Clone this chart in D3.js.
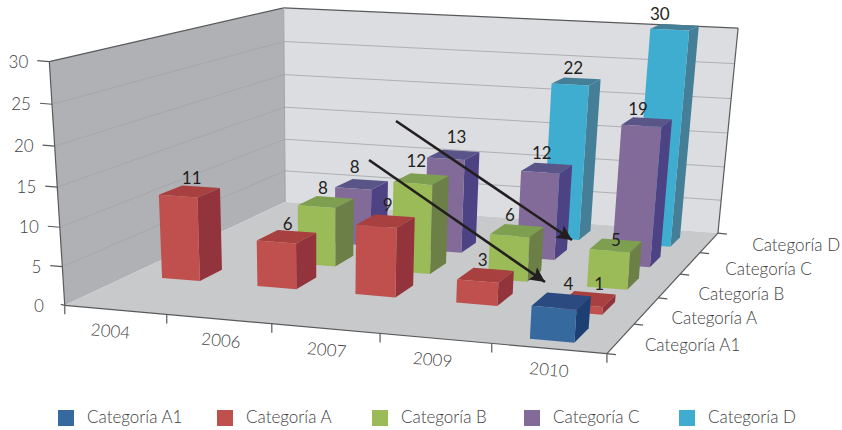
<!DOCTYPE html>
<html>
<head>
<meta charset="utf-8">
<script src="https://cdn.jsdelivr.net/npm/d3@7"></script>
<style>
  html, body { margin: 0; background: #fff; }
  text { font-family: Lato, "Open Sans", sans-serif; }
</style>
</head>
<body>
<svg id="chart" width="842" height="430"></svg>
<script>
// Chart data
const years = ["2004", "2006", "2007", "2009", "2010"];
const seriesNames = ["Categoría A1", "Categoría A", "Categoría B", "Categoría C", "Categoría D"];
const valuesA1 = [null, null, null, null, 4];
const valuesA = [11, 6, 9, 3, 1];
const valuesB = [null, 8, 12, 6, 5];
const valuesC = [null, 8, 13, 12, 19];
const valuesD = [null, null, null, 22, 30];
const seriesValues = [valuesA1, valuesA, valuesB, valuesC, valuesD];
const valueTicks = [0, 5, 10, 15, 20, 25, 30];

// Face colours per series: front, top, side
const seriesColors = [
  { front: "#366a9f", top: "#2b4a80", side: "#1c3f74" },
  { front: "#c0504d", top: "#a8403f", side: "#93333c" },
  { front: "#9bbb59", top: "#7f9f50", side: "#6b7f47" },
  { front: "#826a99", top: "#5a5589", side: "#4d4384" },
  { front: "#3eadcf", top: "#447f97", side: "#447f97" }
];

// Hand placement of value labels, [dx, dy] by series and year
const labelNudge = [
  [null, null, null, null, [7, -1]],
  [[2, 3], [1, 3], [2, 0], [-3, 1], [11, 1]],
  [null, [-3, 2], [-5, -2], [-7, 0], [0, 11]],
  [null, [-7, -1], [3, -2], [-5, 1], [-9, 3]],
  [null, null, null, [-3, 3], [-15, 3]]
];
const yearLabelNudge = [-5, 2, 1, -3, 0];
const seriesLabelDx = [24, 25, 29, 35, 43];
const seriesLabelDy = [8, 9, 10, 8, 4];

// Corners of the chart box on the page: [u, v, h, pageX, pageY]
const boxCorners = [
  [0, 0, 0, 65, 305], [1, 0, 0, 607, 354], [1, 1, 0, 718, 233], [0, 1, 0, 285, 202],
  [0, 0, 1, 49, 63], [1, 0, 1, 626, 91], [1, 1, 1, 738, 29], [0, 1, 1, 284, 7]
];

// Fit a 3x4 projective camera to the box corners (normal equations, Gauss-Jordan)
function fitCamera(pts) {
  const rows = [], rhs = [];
  pts.forEach(([u, v, h, x, y]) => {
    rows.push([u, v, h, 1, 0, 0, 0, 0, -x * u, -x * v, -x * h]); rhs.push(x);
    rows.push([0, 0, 0, 0, u, v, h, 1, -y * u, -y * v, -y * h]); rhs.push(y);
  });
  const n = 11;
  const m = d3.range(n).map(i => d3.range(n + 1).map(j =>
    d3.sum(rows, (r, k) => r[i] * (j < n ? r[j] : rhs[k]))));
  for (let c = 0; c < n; c++) {
    let p = c;
    for (let r = c + 1; r < n; r++) if (Math.abs(m[r][c]) > Math.abs(m[p][c])) p = r;
    [m[c], m[p]] = [m[p], m[c]];
    for (let r = 0; r < n; r++) {
      if (r === c) continue;
      const f = m[r][c] / m[c][c];
      for (let k = c; k <= n; k++) m[r][k] -= f * m[c][k];
    }
  }
  return m.map((r, i) => r[n] / r[i]);
}
const cam = fitCamera(boxCorners);
function project(u, v, h) {
  const w = cam[8] * u + cam[9] * v + cam[10] * h + 1;
  return [
    (cam[0] * u + cam[1] * v + cam[2] * h + cam[3]) / w,
    (cam[4] * u + cam[5] * v + cam[6] * h + cam[7]) / w
  ];
}

// Scales from data to box coordinates
const uScale = d3.scaleBand().domain(years).range([0.01, 0.99]).paddingInner(0.6).paddingOuter(0.3);
const vScale = d3.scaleBand().domain(seriesNames).range([0, 0.98]).paddingInner(0.5).paddingOuter(0.25);
const hScale = d3.scaleLinear().domain([0, 30]).range([0, 1]);
const barHeight = d3.scaleLinear().domain([0, 30]).range([0, 1.02]);
const uBand = d3.scaleBand().domain(years).range([0, 1]);
const vBand = d3.scaleBand().domain(seriesNames).range([0, 1]);

const svg = d3.select("#chart");
const line = d3.line();
const poly = pts => line(pts) + "Z";

// Walls and floor
const walls = svg.append("g");
const P = project;
walls.append("path").attr("d", poly([P(0,0,0), P(0,1,0), P(0,1,1), P(0,0,1)])).attr("fill", "#b0b1b4");
walls.append("path").attr("d", poly([P(0,1,0), P(1,1,0), P(1,1,1), P(0,1,1)])).attr("fill", "#dcdde0");
walls.append("path").attr("d", poly([P(0,0,0), P(1,0,0), P(1,1,0), P(0,1,0)])).attr("fill", "#c8c9cb");

// Gridlines on both walls
valueTicks.slice(1, -1).forEach(t => {
  const h = hScale(t);
  walls.append("path").attr("d", line([P(0,0,h), P(0,1,h)])).attr("stroke", "#a6a7aa").attr("fill", "none");
  walls.append("path").attr("d", line([P(0,1,h), P(1,1,h)])).attr("stroke", "#aeafb1").attr("fill", "none");
});

// Box outlines
const outline = "#58595b";
[
  [P(0,0,0), P(0,0,1)], [P(0,0,1), P(0,1,1)], [P(0,1,1), P(1,1,1)], [P(1,1,1), P(1,1,0)],
  [P(0,0,0), P(1,0,0)], [P(1,0,0), P(1,1,0)]
].forEach(seg => walls.append("path").attr("d", line(seg)).attr("stroke", outline)
  .attr("stroke-width", 1.2).attr("fill", "none"));
walls.append("path").attr("d", line([P(0,1,0), P(0,1,1)])).attr("stroke", "#a2a3a6").attr("fill", "none");

// Value axis ticks and labels
const axisText = "#414042";
const axes = svg.append("g");
valueTicks.forEach(t => {
  const [x, y] = P(0, 0, hScale(t));
  const len = t === 0 ? 4 : 12;
  axes.append("line").attr("x1", x - len).attr("y1", y - 1).attr("x2", x).attr("y2", y)
    .attr("stroke", outline).attr("stroke-width", 1.2);
  axes.append("text").attr("x", x - 21).attr("y", y + 2).attr("text-anchor", "end")
    .attr("dominant-baseline", "middle").attr("font-size", 17).attr("font-weight", 300)
    .attr("fill", axisText).text(t);
});

// Year axis
const uStep = uBand.step();
d3.range(years.length + 1).forEach(i => {
  const [x, y] = P(i * uStep, 0, 0);
  axes.append("line").attr("x1", x).attr("y1", y).attr("x2", x).attr("y2", y + 9)
    .attr("stroke", outline).attr("stroke-width", 1.2);
});
years.forEach((yr, i) => {
  const [x, y] = P(uBand(yr) + uBand.bandwidth() / 2, 0, 0);
  axes.append("text").attr("transform", `translate(${x + yearLabelNudge[i]},${y + 23}) rotate(5)`)
    .attr("text-anchor", "middle").attr("dominant-baseline", "middle")
    .attr("font-size", 17).attr("font-weight", 300).attr("fill", axisText).text(yr);
});

// Series axis on the right-hand floor edge
const vStep = vBand.step();
d3.range(seriesNames.length + 1).forEach(i => {
  const [x, y] = P(1, i * vStep, 0);
  axes.append("line").attr("x1", x).attr("y1", y).attr("x2", x + 9).attr("y2", y + 1)
    .attr("stroke", outline).attr("stroke-width", 1.2);
});
seriesNames.forEach((name, i) => {
  const [x, y] = P(1, vBand(name) + vBand.bandwidth() / 2, 0);
  axes.append("text").attr("x", x + seriesLabelDx[i]).attr("y", y + seriesLabelDy[i])
    .attr("dominant-baseline", "middle").attr("font-size", 17).attr("font-weight", 300)
    .attr("fill", axisText).text(name);
});

// Bars, painted from the back row forward and from left to right
const bars = svg.append("g");
const valueLabels = [];
d3.range(seriesNames.length - 1, -1, -1).forEach(s => {
  const name = seriesNames[s], colors = seriesColors[s];
  years.forEach((yr, i) => {
    const value = seriesValues[s][i];
    if (value == null) return;
    const u0 = uScale(yr), u1 = u0 + uScale.bandwidth();
    const v0 = vScale(name), v1 = v0 + vScale.bandwidth();
    const h = barHeight(value);
    const g = bars.append("g");
    g.append("path").attr("d", poly([P(u1,v0,0), P(u1,v1,0), P(u1,v1,h), P(u1,v0,h)])).attr("fill", colors.side);
    g.append("path").attr("d", poly([P(u0,v0,h), P(u1,v0,h), P(u1,v1,h), P(u0,v1,h)])).attr("fill", colors.top);
    g.append("path").attr("d", poly([P(u0,v0,0), P(u1,v0,0), P(u1,v0,h), P(u0,v0,h)])).attr("fill", colors.front);
    const [lx, ly] = P((u0 + u1) / 2, (v0 + v1) / 2, h);
    const [dx, dy] = labelNudge[s][i];
    valueLabels.push({ x: lx + dx, y: ly + dy, value });
  });
});

// Value labels above each bar
svg.append("g").selectAll("text").data(valueLabels).join("text")
  .attr("x", d => d.x).attr("y", d => d.y - 10)
  .attr("text-anchor", "middle").attr("font-size", 17).attr("fill", "#231f20")
  .text(d => d.value);

// Two annotation arrows across the 2009 and 2010 bars
const arrowLines = [[369, 160, 545, 282], [396, 121, 572, 240]];
const defs = svg.append("defs");
defs.append("marker").attr("id", "arrowhead").attr("viewBox", "0 0 10 10")
  .attr("refX", 10).attr("refY", 5).attr("markerUnits", "userSpaceOnUse")
  .attr("markerWidth", 20).attr("markerHeight", 15).attr("orient", "auto")
  .append("path").attr("d", "M0,0L10,5L0,10L2,5Z").attr("fill", "#231f20");
svg.append("g").selectAll("line").data(arrowLines).join("line")
  .attr("x1", d => d[0]).attr("y1", d => d[1]).attr("x2", d => d[2]).attr("y2", d => d[3])
  .attr("stroke", "#231f20").attr("stroke-width", 2.6).attr("marker-end", "url(#arrowhead)");

// Legend
const legendSwatchX = [58, 217, 372, 524, 679];
const legend = svg.append("g");
seriesNames.forEach((name, i) => {
  legend.append("rect").attr("x", legendSwatchX[i]).attr("y", 410).attr("width", 16).attr("height", 16)
    .attr("fill", seriesColors[i].front);
  legend.append("text").attr("x", legendSwatchX[i] + 29).attr("y", 419)
    .attr("dominant-baseline", "middle").attr("font-size", 17).attr("font-weight", 300)
    .attr("fill", axisText).text(name);
});
</script>
</body>
</html>
